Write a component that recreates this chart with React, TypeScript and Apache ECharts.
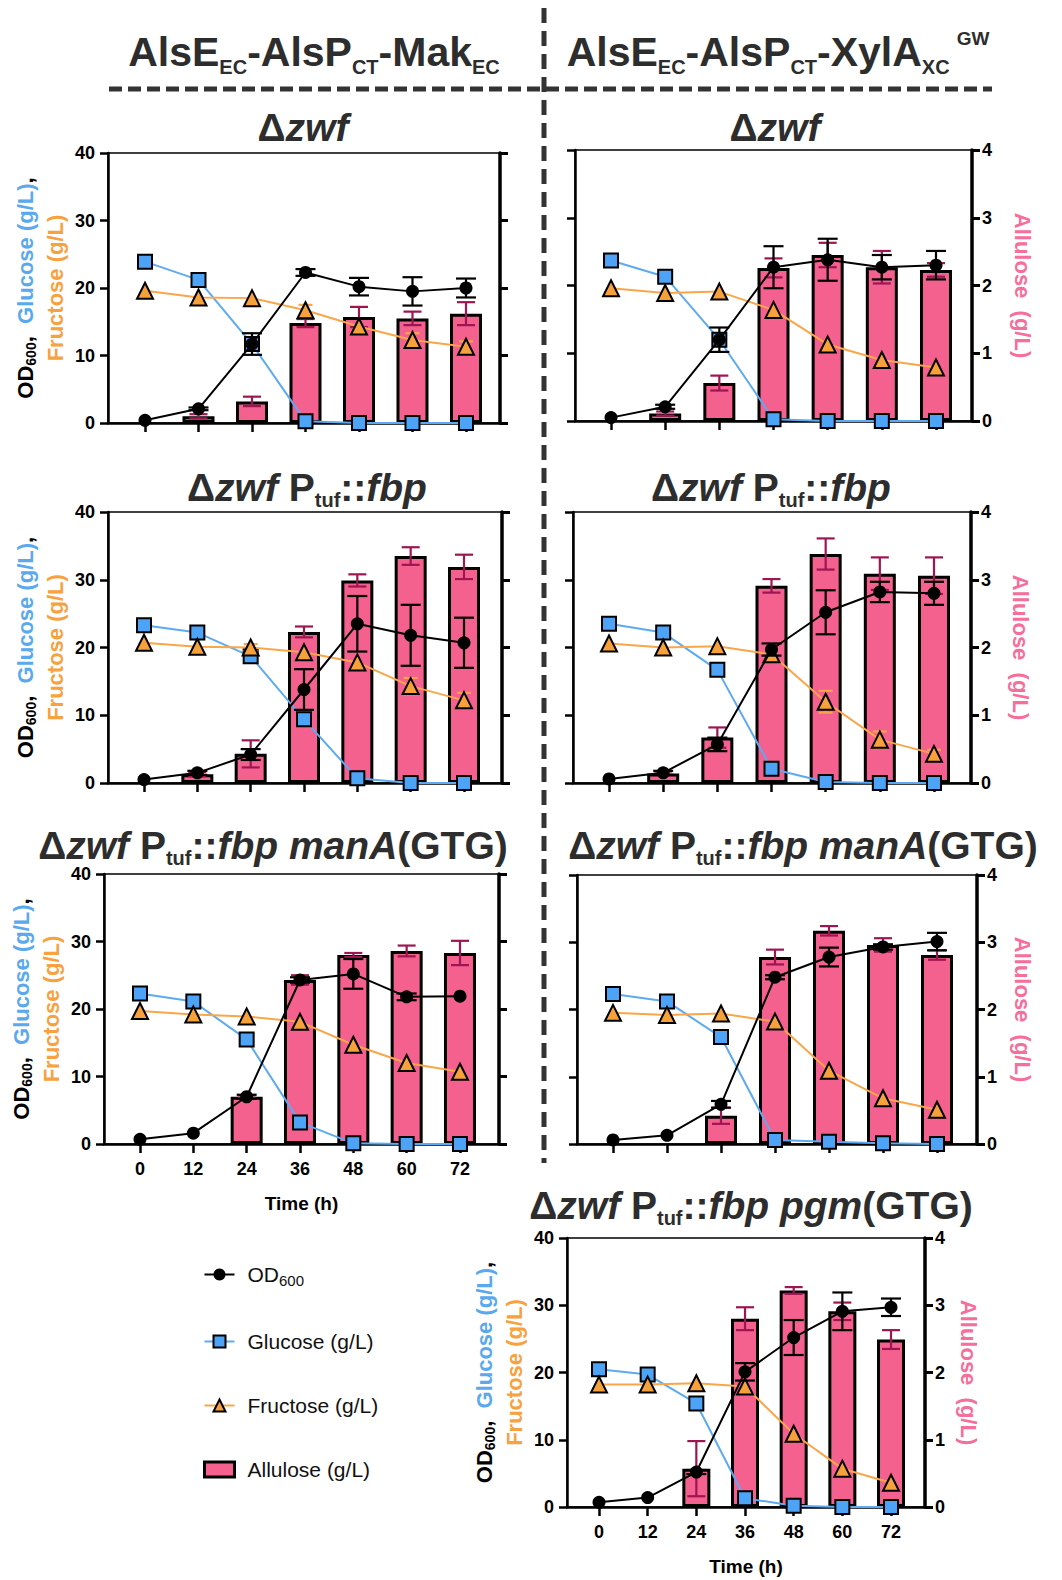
import React, { useEffect, useRef } from 'react';
import * as echarts from 'echarts';

const FONT = "'Liberation Sans', Arial, Helvetica, sans-serif";

// ---------- DATA ----------
const hours = [0, 12, 24, 36, 48, 60, 72];

// Left column: AlsE-AlsP-Mak
// Δzwf
const a1OD = [0.4, 2.1, 11.7, 22.3, 20.2, 19.5, 20.0];
const a1ODErr = [0, 0.2, 1.6, 0.5, 1.3, 2.1, 1.4];
const a1Glc = [23.9, 21.2, 11.7, 0.25, 0, 0, 0];
const a1Fru = [19.6, 18.6, 18.5, 16.7, 14.3, 12.3, 11.3];
const a1FruErr = [0, 0, 0, 0.8, 0, 1.0, 0.8];
const a1All = [0, 0.1, 0.32, 1.48, 1.57, 1.55, 1.62];
const a1AllErr = [0, 0.03, 0.07, 0.06, 0.15, 0.1, 0.17];

// Δzwf Ptuf::fbp
const a2OD = [0.5, 1.5, 4.2, 13.8, 23.5, 21.8, 20.7];
const a2ODErr = [0, 0.3, 0.8, 3.0, 4.1, 4.5, 3.7];
const a2Glc = [23.3, 22.2, 18.7, 9.4, 0.7, 0, 0];
const a2Fru = [20.7, 20.1, 20.0, 19.3, 17.8, 14.3, 12.2];
const a2FruErr = [0, 0, 0.5, 0, 0, 1.2, 1.1];
const a2All = [0, 0.13, 0.43, 2.23, 2.99, 3.35, 3.19];
const a2AllErr = [0, 0.03, 0.2, 0.08, 0.09, 0.13, 0.18];

// Δzwf Ptuf::fbp manA(GTG)
const a3OD = [0.7, 1.6, 7.0, 24.3, 25.2, 21.8, 21.9];
const a3ODErr = [0, 0, 0.3, 0.4, 2.2, 0.5, 0];
const a3Glc = [22.3, 21.1, 15.5, 3.2, 0.1, 0, 0];
const a3Fru = [19.7, 19.2, 18.9, 18.1, 14.7, 12.0, 10.7];
const a3FruErr = [0, 0, 0, 0, 0, 0, 0];
const a3All = [0, 0, 0.7, 2.43, 2.8, 2.86, 2.83];
const a3AllErr = [0, 0, 0.02, 0.07, 0.03, 0.08, 0.18];

// Right column: AlsE-AlsP-XylA
// Δzwf
const b1OD = [0.5, 2.1, 12.0, 22.7, 23.8, 22.7, 23.0];
const b1ODErr = [0, 0.3, 1.8, 3.1, 3.1, 1.8, 2.1];
const b1Glc = [23.7, 21.3, 12.0, 0.25, 0, 0, 0];
const b1Fru = [19.6, 18.9, 19.1, 16.4, 11.3, 9.0, 7.9];
const b1FruErr = [0, 0, 0, 0, 0, 0, 0];
const b1All = [0, 0.11, 0.56, 2.26, 2.45, 2.27, 2.23];
const b1AllErr = [0, 0.03, 0.11, 0.14, 0.18, 0.24, 0.1];

// Δzwf Ptuf::fbp
const b2OD = [0.6, 1.5, 5.7, 19.7, 25.2, 28.2, 28.0];
const b2ODErr = [0, 0.3, 1.0, 0.9, 3.25, 1.5, 1.7];
const b2Glc = [23.5, 22.2, 16.7, 2.1, 0.15, 0, 0];
const b2Fru = [20.6, 20.0, 20.2, 19.0, 12.0, 6.4, 4.3];
const b2FruErr = [0, 0, 0, 0, 1.6, 1.2, 0.6];
const b2All = [0, 0.14, 0.67, 2.91, 3.38, 3.09, 3.06];
const b2AllErr = [0, 0.03, 0.15, 0.1, 0.23, 0.24, 0.27];

// Δzwf Ptuf::fbp manA(GTG)
const b3OD = [0.6, 1.3, 5.9, 24.8, 27.8, 29.3, 30.1];
const b3ODErr = [0, 0, 0.5, 0.3, 1.4, 0.4, 1.3];
const b3Glc = [22.3, 21.2, 15.9, 0.6, 0.35, 0.1, 0];
const b3Fru = [19.5, 19.2, 19.4, 18.2, 10.9, 6.8, 5.1];
const b3FruErr = [0, 0, 0, 0, 0, 0, 0];
const b3All = [0, 0, 0.42, 2.78, 3.17, 2.96, 2.81];
const b3AllErr = [0, 0, 0.12, 0.11, 0.07, 0.1, 0.07];

// Δzwf Ptuf::fbp pgm(GTG)
const b4OD = [0.7, 1.4, 5.2, 20.1, 25.2, 29.1, 29.7];
const b4ODErr = [0, 0, 0.3, 1.3, 2.6, 2.8, 1.3];
const b4Glc = [20.5, 19.7, 15.4, 1.3, 0.2, 0, 0];
const b4Fru = [18.2, 18.2, 18.4, 17.9, 10.9, 5.7, 3.6];
const b4FruErr = [0, 0, 0, 0, 0, 0, 0];
const b4All = [0, 0, 0.57, 2.8, 3.22, 2.91, 2.49];
const b4AllErr = [0, 0, 0.41, 0.17, 0.05, 0.13, 0.14];

const leftAxisRange = [0, 40, 10];
const rightAxisRange = [0, 4, 1];

const legendNames = ['OD600', 'Glucose (g/L)', 'Fructose (g/L)', 'Allulose (g/L)'];

// ---------- STYLE / LAYOUT ----------
const PINK = '#f4618f';
const PINK_ERR = '#9d1652';
const BLUE = '#4da3f5';
const BLUE_LINE = '#5eaaf0';
const ORANGE = '#f7a13b';
const ORANGE_LINE = '#f9a648';
const TITLE_COLOR = '#2d2d2d';

const T_DZWF = '{n|Δ}{i|zwf}';
const T_FBP = '{n|Δ}{i|zwf}{n| P}{s|tuf}{n|::}{i|fbp}';
const T_MANA = '{n|Δ}{i|zwf}{n| P}{s|tuf}{n|::}{i|fbp manA}{n|(GTG)}';
const T_PGM = '{n|Δ}{i|zwf}{n| P}{s|tuf}{n|::}{i|fbp pgm}{n|(GTG)}';

const panels = [
  { od: a1OD, odErr: a1ODErr, glc: a1Glc, fru: a1Fru, fruErr: a1FruErr, all: a1All, allErr: a1AllErr,
    left: 108, top: 153, width: 392, height: 270, xMin: -8.3, xMax: 79.63, side: 'L', xLabels: false,
    barW: 32, title: T_DZWF, tx: 303, ty: 127, nameX: 0 },
  { od: b1OD, odErr: b1ODErr, glc: b1Glc, fru: b1Fru, fruErr: b1FruErr, all: b1All, allErr: b1AllErr,
    left: 575, top: 150, width: 397, height: 271, xMin: -7.98, xMax: 79.98, side: 'R', xLabels: false,
    barW: 32, title: T_DZWF, tx: 775, ty: 127, nameX: 1022 },
  { od: a2OD, odErr: a2ODErr, glc: a2Glc, fru: a2Fru, fruErr: a2FruErr, all: a2All, allErr: a2AllErr,
    left: 108, top: 512, width: 394, height: 271, xMin: -8.1, xMax: 80.55, side: 'L', xLabels: false,
    barW: 32, title: T_FBP, tx: 307, ty: 487, nameX: 0 },
  { od: b2OD, odErr: b2ODErr, glc: b2Glc, fru: b2Fru, fruErr: b2FruErr, all: b2All, allErr: b2AllErr,
    left: 573, top: 512, width: 398, height: 271, xMin: -7.98, xMax: 80.2, side: 'R', xLabels: false,
    barW: 32, title: T_FBP, tx: 771, ty: 487, nameX: 1020 },
  { od: a3OD, odErr: a3ODErr, glc: a3Glc, fru: a3Fru, fruErr: a3FruErr, all: a3All, allErr: a3AllErr,
    left: 104, top: 874, width: 395, height: 270, xMin: -8.1, xMax: 80.78, side: 'L', xLabels: true,
    barW: 32, title: T_MANA, tx: 273, ty: 845, nameX: 0 },
  { od: b3OD, odErr: b3ODErr, glc: b3Glc, fru: b3Fru, fruErr: b3FruErr, all: b3All, allErr: b3AllErr,
    left: 577, top: 875, width: 400, height: 269, xMin: -8.0, xMax: 80.89, side: 'R', xLabels: false,
    barW: 32, title: T_MANA, tx: 803, ty: 845, nameX: 1022 },
  { od: b4OD, odErr: b4ODErr, glc: b4Glc, fru: b4Fru, fruErr: b4FruErr, all: b4All, allErr: b4AllErr,
    left: 567, top: 1238, width: 358, height: 269, xMin: -7.89, xMax: 80.38, side: 'B', xLabels: true,
    barW: 28, title: T_PGM, tx: 751, ty: 1205, nameX: 968 },
];

const titleRich = {
  n: { fontSize: 39, fontWeight: 'bold', fill: TITLE_COLOR, fontFamily: FONT, lineHeight: 46 },
  i: { fontSize: 39, fontWeight: 'bold', fontStyle: 'italic', fill: TITLE_COLOR, fontFamily: FONT, lineHeight: 46 },
  s: { fontSize: 20, fontWeight: 'bold', fill: TITLE_COLOR, fontFamily: FONT, lineHeight: 46, padding: [26, 0, 0, 0] },
};

const yNameRich = {
  k: { fontSize: 22, fontWeight: 'bold', fill: '#000', fontFamily: FONT, lineHeight: 30 },
  ks: { fontSize: 14, fontWeight: 'bold', fill: '#000', fontFamily: FONT, lineHeight: 30, padding: [12, 0, 0, 0] },
  b: { fontSize: 22, fontWeight: 'bold', fill: '#5aa9ee', fontFamily: FONT, lineHeight: 30 },
  o: { fontSize: 22, fontWeight: 'bold', fill: '#f7a23f', fontFamily: FONT, lineHeight: 30 },
  p: { fontSize: 22, fontWeight: 'bold', fill: '#f56e9c', fontFamily: FONT, lineHeight: 30 },
};

const headerRich = {
  m: { fontSize: 41, fontWeight: 'bold', fill: TITLE_COLOR, fontFamily: FONT, lineHeight: 60 },
  s: { fontSize: 20, fontWeight: 'bold', fill: TITLE_COLOR, fontFamily: FONT, lineHeight: 60, padding: [30, 0, 0, 0] },
  u: { fontSize: 19, fontWeight: 'bold', fill: TITLE_COLOR, fontFamily: FONT, lineHeight: 60, padding: [0, 0, 28, 7] },
};

function errSeries(name: string, g: number, yIdx: number, vals: number[], errs: number[], color: string, capW: number, z: number) {
  return {
    type: 'custom',
    name,
    xAxisIndex: g,
    yAxisIndex: yIdx,
    z,
    silent: true,
    encode: { x: 0, y: 1 },
    data: hours.map((h, i) => [h, vals[i], errs[i]]),
    renderItem: (params: any, api: any) => {
      const x = api.value(0);
      const m = api.value(1);
      const e = api.value(2);
      if (!e) return null;
      const top = api.coord([x, m + e]);
      const bot = api.coord([x, Math.max(0, m - e)]);
      const hw = capW / 2;
      const st = { stroke: color, lineWidth: 2.2 };
      return {
        type: 'group',
        children: [
          { type: 'line', shape: { x1: top[0], y1: top[1], x2: bot[0], y2: bot[1] }, style: st },
          { type: 'line', shape: { x1: top[0] - hw, y1: top[1], x2: top[0] + hw, y2: top[1] }, style: st },
          { type: 'line', shape: { x1: bot[0] - hw, y1: bot[1], x2: bot[0] + hw, y2: bot[1] }, style: st },
        ],
      };
    },
  };
}

function buildOption() {
  const grid: any[] = [];
  const xAxis: any[] = [];
  const yAxis: any[] = [];
  const series: any[] = [];
  const graphic: any[] = [];

  panels.forEach((p, g) => {
    grid.push({ left: p.left, top: p.top, width: p.width, height: p.height, show: true, borderColor: '#000', borderWidth: 1.5, backgroundColor: 'transparent' });
    xAxis.push({
      type: 'value', gridIndex: g, min: p.xMin, max: p.xMax,
      axisLine: { show: true, onZero: false, lineStyle: { color: '#000', width: 2.5 } },
      axisTick: { show: true, customValues: hours, length: 9, lineStyle: { color: '#000', width: 2.5 } },
      axisLabel: { show: p.xLabels, customValues: hours, fontSize: 18, fontWeight: 'bold', color: '#000', fontFamily: FONT, margin: 16 },
      splitLine: { show: false },
      name: p.xLabels ? 'Time (h)' : '',
      nameLocation: 'middle', nameGap: 50,
      nameTextStyle: { fontSize: 19, fontWeight: 'bold', color: '#000', fontFamily: FONT },
    });
    yAxis.push({
      type: 'value', gridIndex: g, position: 'left',
      min: leftAxisRange[0], max: leftAxisRange[1], interval: leftAxisRange[2],
      axisLine: { show: true, onZero: false, lineStyle: { color: '#000', width: 2.5 } },
      axisTick: { show: true, length: 8, lineStyle: { color: '#000', width: 2.5 } },
      axisLabel: { show: p.side !== 'R', fontSize: 18, fontWeight: 'bold', color: '#000', fontFamily: FONT, margin: 13 },
      splitLine: { show: false },
    });
    yAxis.push({
      type: 'value', gridIndex: g, position: 'right',
      min: rightAxisRange[0], max: rightAxisRange[1], interval: rightAxisRange[2],
      axisLine: { show: true, onZero: false, lineStyle: { color: '#000', width: 3.5 } },
      axisTick: { show: true, length: 8, lineStyle: { color: '#000', width: 3 } },
      axisLabel: { show: p.side !== 'L', fontSize: 18, fontWeight: 'bold', color: '#000', fontFamily: FONT, margin: 10 },
      splitLine: { show: false },
    });

    series.push({
      type: 'bar', name: 'Allulose (g/L)', xAxisIndex: g, yAxisIndex: 2 * g + 1, z: 2,
      barWidth: p.barW,
      data: hours.map((h, i) => [h, p.all[i] > 0 ? p.all[i] : '-']),
      itemStyle: { color: PINK, borderColor: '#000', borderWidth: 3 },
    });
    series.push(errSeries('allErr' + g, g, 2 * g + 1, p.all, p.allErr, PINK_ERR, 18, 3));
    series.push({
      type: 'line', name: 'Glucose (g/L)', xAxisIndex: g, yAxisIndex: 2 * g, z: 4,
      data: hours.map((h, i) => [h, p.glc[i]]),
      symbol: 'rect', symbolSize: 14,
      itemStyle: { color: BLUE, borderColor: '#000', borderWidth: 2 },
      lineStyle: { color: BLUE_LINE, width: 2 },
    });
    series.push(errSeries('fruErr' + g, g, 2 * g, p.fru, p.fruErr, ORANGE_LINE, 14, 5));
    series.push({
      type: 'line', name: 'Fructose (g/L)', xAxisIndex: g, yAxisIndex: 2 * g, z: 5,
      data: hours.map((h, i) => [h, p.fru[i]]),
      symbol: 'triangle', symbolSize: 16,
      itemStyle: { color: ORANGE, borderColor: '#000', borderWidth: 2 },
      lineStyle: { color: ORANGE_LINE, width: 2 },
    });
    series.push(errSeries('odErr' + g, g, 2 * g, p.od, p.odErr, '#000', 20, 6));
    series.push({
      type: 'line', name: 'OD600', xAxisIndex: g, yAxisIndex: 2 * g, z: 7,
      data: hours.map((h, i) => [h, p.od[i]]),
      symbol: 'circle', symbolSize: 13,
      itemStyle: { color: '#000' },
      lineStyle: { color: '#000', width: 2 },
    });

    // panel title
    graphic.push({
      type: 'text', x: p.tx, y: p.ty, z: 10,
      style: { text: p.title, rich: titleRich, align: 'center', verticalAlign: 'middle' },
    });
    const cy = p.top + p.height / 2;
    if (p.side !== 'R') {
      graphic.push({
        type: 'text', x: p.left - 68, y: cy, rotation: Math.PI / 2, z: 10,
        style: {
          text: '{k|OD}{ks|600}{k|,  }{b|Glucose (g/L)}{k|,}\n{o|Fructose (g/L)}',
          rich: yNameRich, align: 'center', verticalAlign: 'middle',
        },
      });
    }
    if (p.side !== 'L') {
      graphic.push({
        type: 'text', x: p.nameX, y: cy, rotation: -Math.PI / 2, z: 10,
        style: { text: '{p|Allulose  (g/L)}', rich: yNameRich, align: 'center', verticalAlign: 'middle' },
      });
    }
  });

  // headers
  graphic.push({
    type: 'text', x: 314, y: 52, z: 10,
    style: { text: '{m|AlsE}{s|EC}{m|-AlsP}{s|CT}{m|-Mak}{s|EC}', rich: headerRich, align: 'center', verticalAlign: 'middle' },
  });
  graphic.push({
    type: 'text', x: 778, y: 52, z: 10,
    style: { text: '{m|AlsE}{s|EC}{m|-AlsP}{s|CT}{m|-XylA}{s|XC}{u|GW}', rich: headerRich, align: 'center', verticalAlign: 'middle' },
  });
  // dashed separators
  graphic.push({
    type: 'line', z: 10, shape: { x1: 109, y1: 89, x2: 992, y2: 89 },
    style: { stroke: '#333', lineWidth: 5, lineDash: [13, 6] },
  });
  graphic.push({
    type: 'line', z: 10, shape: { x1: 544, y1: 8, x2: 544, y2: 1163 },
    style: { stroke: '#333', lineWidth: 5, lineDash: [15, 8] },
  });

  const legendBorder = { borderColor: '#000', borderWidth: 2 };

  return {
    animation: false,
    backgroundColor: '#fff',
    grid, xAxis, yAxis, series, graphic,
    legend: {
      data: [
        { name: legendNames[0] },
        { name: legendNames[1], itemStyle: legendBorder },
        { name: legendNames[2], itemStyle: legendBorder },
        { name: legendNames[3], icon: 'rect', itemStyle: { borderColor: '#000', borderWidth: 3 } },
      ],
      orient: 'vertical',
      left: 198, top: 1259,
      itemWidth: 30, itemHeight: 15, itemGap: 43,
      selectedMode: false,
      textStyle: {
        fontSize: 21, color: '#111', fontFamily: FONT, padding: [0, 0, 0, 8],
        rich: {
          a: { fontSize: 21, color: '#111', fontFamily: FONT },
          s: { fontSize: 15, color: '#111', fontFamily: FONT, padding: [12, 0, 0, 0] },
        },
      },
      formatter: (name: string) => (name === 'OD600' ? '{a|OD}{s|600}' : '{a|' + name + '}'),
    },
  };
}

export default function App() {
  const ref = useRef<HTMLDivElement>(null);
  useEffect(() => {
    const chart = echarts.init(ref.current as HTMLDivElement, null, { renderer: 'svg' });
    chart.setOption(buildOption() as any);
    return () => chart.dispose();
  }, []);
  return (
    <div
      ref={ref}
      style={{ position: 'absolute', left: 0, top: 0, width: 1062, height: 1580, background: '#fff' }}
    />
  );
}
